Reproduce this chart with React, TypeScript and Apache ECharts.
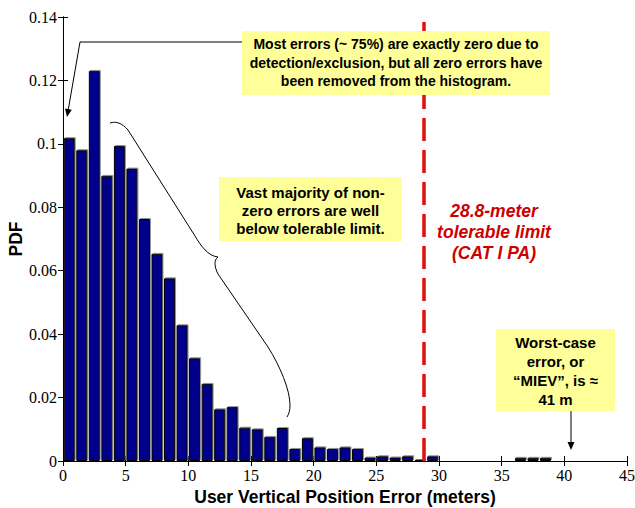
import React, { useEffect, useRef } from "react";
import * as echarts from "echarts";

const pdfValues = [
  0.1018, 0.098, 0.123, 0.0899, 0.0993, 0.0922, 0.0763, 0.0653, 0.0576, 0.0428,
  0.0324, 0.0243, 0.0163, 0.017, 0.0105, 0.01, 0.0076, 0.0104, 0.0038, 0.0072,
  0.0043, 0.0038, 0.0043, 0.0038, 0.0011, 0.0015, 0.0011, 0.0015, 0.0004, 0.0015,
  0.0003, 0.0003, 0.0003, 0.0003, 0.0003, 0.0003, 0.001, 0.001, 0.001, 0.0003,
  0.0003,
];
const binWidth = 1;
const xTicks = { min: 0, max: 45, interval: 5 };
const yTicks = { min: 0, max: 0.14, interval: 0.02 };
const tolerableLimit = 28.8;

const note1 = [
  "Most errors (~ 75%) are exactly zero due to",
  "detection/exclusion, but all zero errors have",
  "been removed from the histogram.",
];
const note2 = ["Vast majority of non-", "zero errors are well", "below tolerable limit."];
const note3 = ["28.8-meter", "tolerable limit", "(CAT I PA)"];
const note4 = ["Worst-case", "error, or", "\u201cMIEV\u201d, is \u2248", "41 m"];

const bracePath =
  "M110,123 C116,121 122,123 128,130 L195,236 C201,246 208,256 218,257 C214,260 214,266 218,274 L268,347 C280,366 290,390 290,405 C290,410 289,414 287,417";

export default function App() {
  const ref = useRef<HTMLDivElement>(null);
  useEffect(() => {
    document.body.style.margin = "0";
    try {
      echarts.graphic.registerShape("brace", echarts.graphic.extendPath(bracePath, {}) as any);
    } catch (e) {}
    const chart = echarts.init(ref.current!, null, { renderer: "svg" });
    const data = pdfValues.map((v, i) => [i * binWidth + binWidth / 2, v]);
    const serif = "Liberation Serif";
    const sans = "Liberation Sans";
    const boxText = (lines: string[]) => lines.join("\n");
    const tickLabel = (v: number) => String(+v.toFixed(2));
    const tickLabelStyle = {
      color: "#000",
      fontFamily: serif,
      fontSize: 16,
      fontWeight: "normal",
      margin: 6,
      formatter: tickLabel,
    };
    chart.setOption({
      animation: false,
      backgroundColor: "#ffffff",
      textStyle: { fontFamily: serif },
      grid: { left: 63, right: 8, top: 17, bottom: 47, containLabel: false, outerBoundsMode: "none" },
      xAxis: [
        {
          type: "value",
          ...xTicks,
          position: "bottom",
          axisLine: { show: true, lineStyle: { color: "#000", width: 1 } },
          axisTick: { show: true, inside: true, length: 5, lineStyle: { color: "#000" } },
          axisLabel: tickLabelStyle,
          splitLine: { show: false },
          name: "User Vertical Position Error (meters)",
          nameLocation: "middle",
          nameGap: 26,
          nameTextStyle: { color: "#000", fontFamily: sans, fontWeight: "bold", fontSize: 17.5 },
        },
        {
          type: "value",
          ...xTicks,
          position: "top",
          axisLine: { show: true, lineStyle: { color: "#000", width: 1 } },
          axisTick: { show: true, inside: true, length: 5, lineStyle: { color: "#000" } },
          axisLabel: { show: false },
          splitLine: { show: false },
        },
      ],
      yAxis: [
        {
          type: "value",
          ...yTicks,
          position: "left",
          axisLine: { show: true, lineStyle: { color: "#000", width: 1 } },
          axisTick: { show: true, inside: true, length: 5, lineStyle: { color: "#000" } },
          axisLabel: tickLabelStyle,
          splitLine: { show: false },
          name: "PDF",
          nameLocation: "middle",
          nameGap: 38,
          nameMoveOverlap: false,
          nameRotate: 90,
          nameTextStyle: { color: "#000", fontFamily: sans, fontWeight: "bold", fontSize: 17.5 },
        },
        {
          type: "value",
          ...yTicks,
          position: "right",
          axisLine: { show: true, lineStyle: { color: "#000", width: 1 } },
          axisTick: { show: true, inside: true, length: 5, lineStyle: { color: "#000" } },
          axisLabel: { show: false },
          splitLine: { show: false },
        },
      ],
      series: [
        {
          type: "bar",
          xAxisIndex: 0,
          yAxisIndex: 0,
          data,
          barWidth: 11,
          itemStyle: {
            color: "#03038a",
            borderColor: "#000",
            borderWidth: 1,
            shadowColor: "rgba(120,120,120,0.8)",
            shadowOffsetX: 1,
            shadowOffsetY: -1,
          },
          markLine: {
            silent: true,
            symbol: "none",
            label: { show: false },
            lineStyle: { color: "#dd1111", type: [23, 9], width: 3.5 },
            data: [{ xAxis: tolerableLimit }],
          },
        },
      ],
      graphic: [
        { type: "rect", shape: { x: 242, y: 31, width: 308, height: 64 }, style: { fill: "#ffff99" }, z: 10 },
        {
          type: "text",
          x: 396,
          y: 35,
          z: 11,
          style: {
            text: boxText(note1),
            textAlign: "center",
            fill: "#000",
            font: `bold 14px ${sans}`,
            lineHeight: 18.5,
          },
        },
        {
          type: "polyline",
          z: 11,
          shape: { points: [[242, 42], [80, 42], [68.2, 110]] },
          style: { stroke: "#000", lineWidth: 1, fill: "none" },
        },
        {
          type: "polygon",
          z: 11,
          shape: { points: [[67, 117], [71.8, 109.7], [65, 108.5]] },
          style: { fill: "#000" },
        },
        { type: "brace", x: 0, y: 0, z: 11, style: { stroke: "#000", lineWidth: 1, fill: "none" } },
        { type: "rect", shape: { x: 219, y: 177, width: 183, height: 64 }, style: { fill: "#ffff99" }, z: 10 },
        {
          type: "text",
          x: 310.5,
          y: 183,
          z: 11,
          style: {
            text: boxText(note2),
            textAlign: "center",
            fill: "#000",
            font: `bold 15px ${sans}`,
            lineHeight: 18,
          },
        },
        {
          type: "text",
          x: 494,
          y: 201,
          z: 11,
          style: {
            text: boxText(note3),
            textAlign: "center",
            fill: "#cc0000",
            font: `italic bold 17.5px ${sans}`,
            lineHeight: 20.7,
          },
        },
        { type: "rect", shape: { x: 496, y: 329, width: 119, height: 82 }, style: { fill: "#ffff99" }, z: 10 },
        {
          type: "text",
          x: 555.5,
          y: 333,
          z: 11,
          style: {
            text: boxText(note4),
            textAlign: "center",
            fill: "#000",
            font: `bold 15px ${sans}`,
            lineHeight: 19,
          },
        },
        {
          type: "line",
          z: 11,
          shape: { x1: 571, y1: 411, x2: 571, y2: 443 },
          style: { stroke: "#000", lineWidth: 1 },
        },
        {
          type: "polygon",
          z: 11,
          shape: { points: [[571, 450], [567.5, 442], [574.5, 442]] },
          style: { fill: "#000" },
        },
      ],
    });
    return () => chart.dispose();
  }, []);
  return (
    <div
      ref={ref}
      style={{ position: "absolute", left: 0, top: 0, width: 635, height: 508, background: "#fff" }}
    />
  );
}
